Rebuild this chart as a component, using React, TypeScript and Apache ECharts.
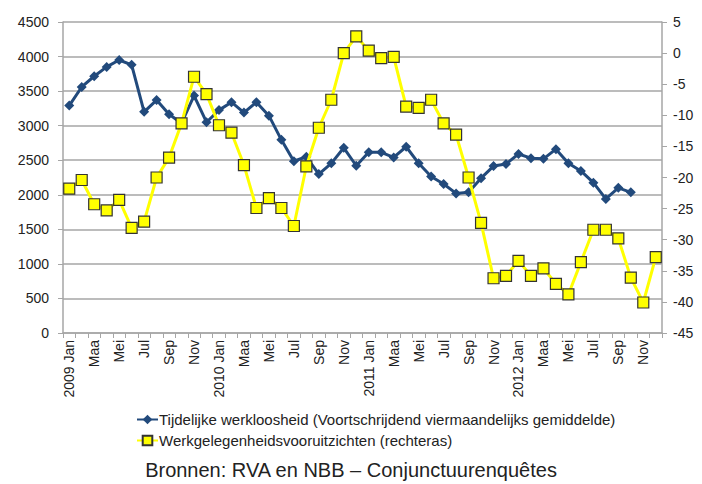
import React, { useEffect, useRef } from "react";
import * as echarts from "echarts";

const monthNames = ["Jan", "Feb", "Maa", "Apr", "Mei", "Jun", "Jul", "Aug", "Sep", "Okt", "Nov", "Dec"];
const years = [2009, 2010, 2011, 2012];
const categories: string[] = [];
years.forEach((y) => monthNames.forEach((m, i) => categories.push(i === 0 ? `${y} Jan` : m)));

const tijdelijkeWerkloosheid: (number | null)[] = [
  3290, 3560, 3715, 3850, 3950, 3880, 3200, 3370, 3165, 3035, 3435, 3050,
  3225, 3340, 3190, 3340, 3145, 2795, 2485, 2550, 2300, 2455, 2680, 2420,
  2615, 2615, 2540, 2695, 2455, 2265, 2155, 2020, 2035, 2240, 2415, 2445,
  2590, 2530, 2520, 2660, 2455, 2345, 2175, 1940, 2100, 2035, null, null,
];

const werkgelegenheidsVooruitzichten: number[] = [
  -21.8, -20.4, -24.3, -25.3, -23.6, -28.1, -27.1, -20.0, -16.8, -11.3, -3.8, -6.6,
  -11.6, -12.8, -18.0, -24.9, -23.3, -24.9, -27.8, -18.2, -12.0, -7.5, 0.0, 2.7,
  0.4, -0.8, -0.6, -8.6, -8.8, -7.5, -11.3, -13.1, -20.0, -27.3, -36.2, -35.8,
  -33.4, -35.8, -34.6, -37.1, -38.8, -33.6, -28.4, -28.4, -29.8, -36.1, -40.1, -32.8,
];

const FONT = "'Liberation Sans', Arial, sans-serif";

export default function App() {
  const ref = useRef<HTMLDivElement>(null);
  useEffect(() => {
    if (!ref.current) return;
    const chart = echarts.init(ref.current, undefined, { renderer: "svg" });
    chart.setOption({
      animation: false,
      textStyle: { fontFamily: FONT },
      title: {
        text: "Bronnen: RVA en NBB – Conjunctuurenquêtes",
        left: "center",
        top: 460,
        padding: 0,
        textStyle: { fontFamily: FONT, fontSize: 20, lineHeight: 20, fontWeight: "normal", color: "#222" },
      },
      legend: {
        orient: "vertical",
        left: 136,
        top: 412,
        padding: 0,
        itemWidth: 21,
        itemHeight: 12,
        itemGap: 6,
        textStyle: { fontFamily: FONT, fontSize: 15, color: "#222", padding: [0, 0, 0, -4] },
        data: [
          "Tijdelijke werkloosheid (Voortschrijdend viermaandelijks gemiddelde)",
          "Werkgelegenheidsvooruitzichten (rechteras)",
        ],
      },
      grid: { left: 63, right: 40, top: 22, bottom: 151, containLabel: false },
      xAxis: {
        type: "category",
        data: categories,
        boundaryGap: true,
        axisLine: { lineStyle: { color: "#a6a6a6", width: 1.5 } },
        axisTick: { show: true, interval: 0, length: 5, lineStyle: { color: "#a6a6a6" } },
        axisLabel: {
          interval: 1,
          rotate: 90,
          fontFamily: FONT,
          fontSize: 14,
          color: "#222",
          margin: 7,
        },
      },
      yAxis: [
        {
          type: "value",
          min: 0,
          max: 4500,
          interval: 500,
          axisLine: { show: true, lineStyle: { color: "#a6a6a6", width: 1.5 } },
          axisTick: { show: true, length: 5, lineStyle: { color: "#a6a6a6" } },
          axisLabel: { fontFamily: FONT, fontSize: 14, color: "#222", margin: 14, formatter: (v: number) => String(v) },
          splitLine: { show: true, lineStyle: { color: "#a6a6a6", width: 1.5 } },
        },
        {
          type: "value",
          min: -45,
          max: 5,
          interval: 5,
          position: "right",
          axisLine: { show: true, lineStyle: { color: "#a6a6a6", width: 1.5 } },
          axisTick: { show: true, length: 5, lineStyle: { color: "#a6a6a6" } },
          axisLabel: { fontFamily: FONT, fontSize: 14, color: "#222", margin: 11, formatter: (v: number) => String(v) },
          splitLine: { show: false },
        },
      ],
      series: [
        {
          name: "Tijdelijke werkloosheid (Voortschrijdend viermaandelijks gemiddelde)",
          type: "line",
          yAxisIndex: 0,
          data: tijdelijkeWerkloosheid,
          symbol: "diamond",
          symbolSize: 10,
          showAllSymbol: true,
          lineStyle: { color: "#224a7c", width: 3 },
          itemStyle: { color: "#224a7c", borderColor: "#224a7c", borderWidth: 0 },
          z: 3,
        },
        {
          name: "Werkgelegenheidsvooruitzichten (rechteras)",
          type: "line",
          yAxisIndex: 1,
          data: werkgelegenheidsVooruitzichten,
          symbol: "rect",
          symbolSize: 11,
          showAllSymbol: true,
          lineStyle: { color: "#ffff00", width: 3 },
          itemStyle: { color: "#ffff00", borderColor: "#333333", borderWidth: 1.2 },
          z: 4,
        },
      ],
    });
    return () => chart.dispose();
  }, []);
  return <div ref={ref} style={{ position: "absolute", left: 0, top: 0, width: 702, height: 484 }} />;
}
